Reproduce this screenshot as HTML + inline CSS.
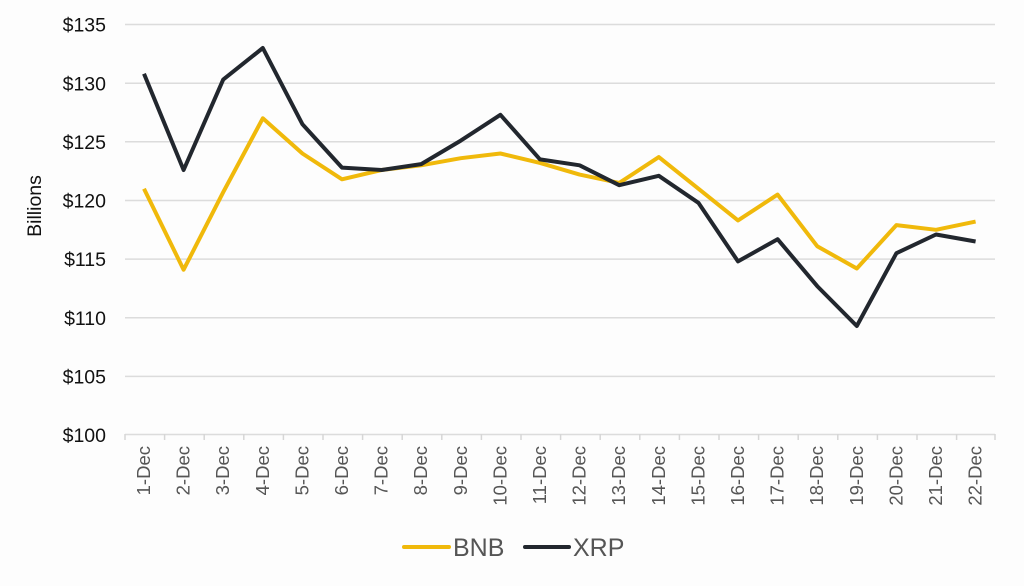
<!DOCTYPE html>
<html><head><style>
html,body{margin:0;padding:0;background:#fdfdfd;}
svg{display:block;font-family:"Liberation Sans",Arial,sans-serif;}
</style></head><body>
<svg width="1024" height="586" viewBox="0 0 1024 586" xmlns="http://www.w3.org/2000/svg">
<rect width="1024" height="586" fill="#fdfdfd"/>
<g stroke="#dcdcdc" stroke-width="1.5">
<line x1="125" y1="24.5" x2="995" y2="24.5"/>
<line x1="125" y1="83.2" x2="995" y2="83.2"/>
<line x1="125" y1="141.8" x2="995" y2="141.8"/>
<line x1="125" y1="200.5" x2="995" y2="200.5"/>
<line x1="125" y1="259.1" x2="995" y2="259.1"/>
<line x1="125" y1="317.8" x2="995" y2="317.8"/>
<line x1="125" y1="376.4" x2="995" y2="376.4"/>
<line x1="125" y1="434.5" x2="995" y2="434.5"/>
</g>
<g stroke="#d6d6d6" stroke-width="1.5">
<line x1="125" y1="434" x2="125" y2="440"/><line x1="164.6" y1="434" x2="164.6" y2="440"/><line x1="204.2" y1="434" x2="204.2" y2="440"/><line x1="243.8" y1="434" x2="243.8" y2="440"/><line x1="283.4" y1="434" x2="283.4" y2="440"/><line x1="323" y1="434" x2="323" y2="440"/><line x1="362.6" y1="434" x2="362.6" y2="440"/><line x1="402.2" y1="434" x2="402.2" y2="440"/><line x1="441.8" y1="434" x2="441.8" y2="440"/><line x1="481.4" y1="434" x2="481.4" y2="440"/><line x1="521" y1="434" x2="521" y2="440"/><line x1="560.6" y1="434" x2="560.6" y2="440"/><line x1="600.2" y1="434" x2="600.2" y2="440"/><line x1="639.8" y1="434" x2="639.8" y2="440"/><line x1="679.4" y1="434" x2="679.4" y2="440"/><line x1="719" y1="434" x2="719" y2="440"/><line x1="758.6" y1="434" x2="758.6" y2="440"/><line x1="798.2" y1="434" x2="798.2" y2="440"/><line x1="837.8" y1="434" x2="837.8" y2="440"/><line x1="877.4" y1="434" x2="877.4" y2="440"/><line x1="917" y1="434" x2="917" y2="440"/><line x1="956.6" y1="434" x2="956.6" y2="440"/><line x1="995" y1="434" x2="995" y2="440"/>
</g>
<g font-size="19.5" fill="#111" text-anchor="end">
<text x="106" y="31.5">$135</text><text x="106" y="90.5">$130</text><text x="106" y="149">$125</text><text x="106" y="207.5">$120</text><text x="106" y="266">$115</text><text x="106" y="325">$110</text><text x="106" y="383.5">$105</text><text x="106" y="442">$100</text>
</g>
<text transform="translate(41,206) rotate(-90)" font-size="19.5" fill="#111" text-anchor="middle">Billions</text>
<g font-size="18.5" fill="#555" text-anchor="end">
<text transform="translate(150,446) rotate(-90)">1-Dec</text>
<text transform="translate(189.6,446) rotate(-90)">2-Dec</text>
<text transform="translate(229.2,446) rotate(-90)">3-Dec</text>
<text transform="translate(268.8,446) rotate(-90)">4-Dec</text>
<text transform="translate(308.4,446) rotate(-90)">5-Dec</text>
<text transform="translate(348,446) rotate(-90)">6-Dec</text>
<text transform="translate(387.6,446) rotate(-90)">7-Dec</text>
<text transform="translate(427.2,446) rotate(-90)">8-Dec</text>
<text transform="translate(466.8,446) rotate(-90)">9-Dec</text>
<text transform="translate(506.4,446) rotate(-90)">10-Dec</text>
<text transform="translate(546,446) rotate(-90)">11-Dec</text>
<text transform="translate(585.6,446) rotate(-90)">12-Dec</text>
<text transform="translate(625.2,446) rotate(-90)">13-Dec</text>
<text transform="translate(664.8,446) rotate(-90)">14-Dec</text>
<text transform="translate(704.4,446) rotate(-90)">15-Dec</text>
<text transform="translate(744,446) rotate(-90)">16-Dec</text>
<text transform="translate(783.6,446) rotate(-90)">17-Dec</text>
<text transform="translate(823.2,446) rotate(-90)">18-Dec</text>
<text transform="translate(862.8,446) rotate(-90)">19-Dec</text>
<text transform="translate(902.4,446) rotate(-90)">20-Dec</text>
<text transform="translate(942,446) rotate(-90)">21-Dec</text>
<text transform="translate(981.6,446) rotate(-90)">22-Dec</text>
</g>
<polyline fill="none" stroke="#f0b90b" stroke-width="4" stroke-linejoin="round" points="144,188.7 183.6,269.7 223.2,192.2 262.8,118.3 302.4,153.5 342,179.3 381.6,170 421.2,165.3 460.8,158.2 500.4,153.5 540,162.9 579.6,174.6 619.2,182.9 658.8,157.1 698.4,188.7 738,220.4 777.6,194.6 817.2,246.2 856.8,268.5 896.4,225.1 936,229.8 975.6,221.6"/>
<polyline fill="none" stroke="#22272e" stroke-width="4" stroke-linejoin="round" points="144,73.8 183.6,170 223.2,79.6 262.8,48 302.4,124.2 342,167.6 381.6,170 421.2,164.1 460.8,140.6 500.4,114.8 540,159.4 579.6,165.3 619.2,185.2 658.8,175.8 698.4,202.8 738,261.4 777.6,239.2 817.2,286.1 856.8,326 896.4,253.2 936,234.5 975.6,241.5"/>
<line x1="404" y1="547" x2="449" y2="547" stroke="#f0b90b" stroke-width="4" stroke-linecap="round"/>
<text x="453" y="556" font-size="25" fill="#555">BNB</text>
<line x1="525" y1="547" x2="569" y2="547" stroke="#22272e" stroke-width="4" stroke-linecap="round"/>
<text x="573" y="556" font-size="25" fill="#555">XRP</text>
</svg>
</body></html>
